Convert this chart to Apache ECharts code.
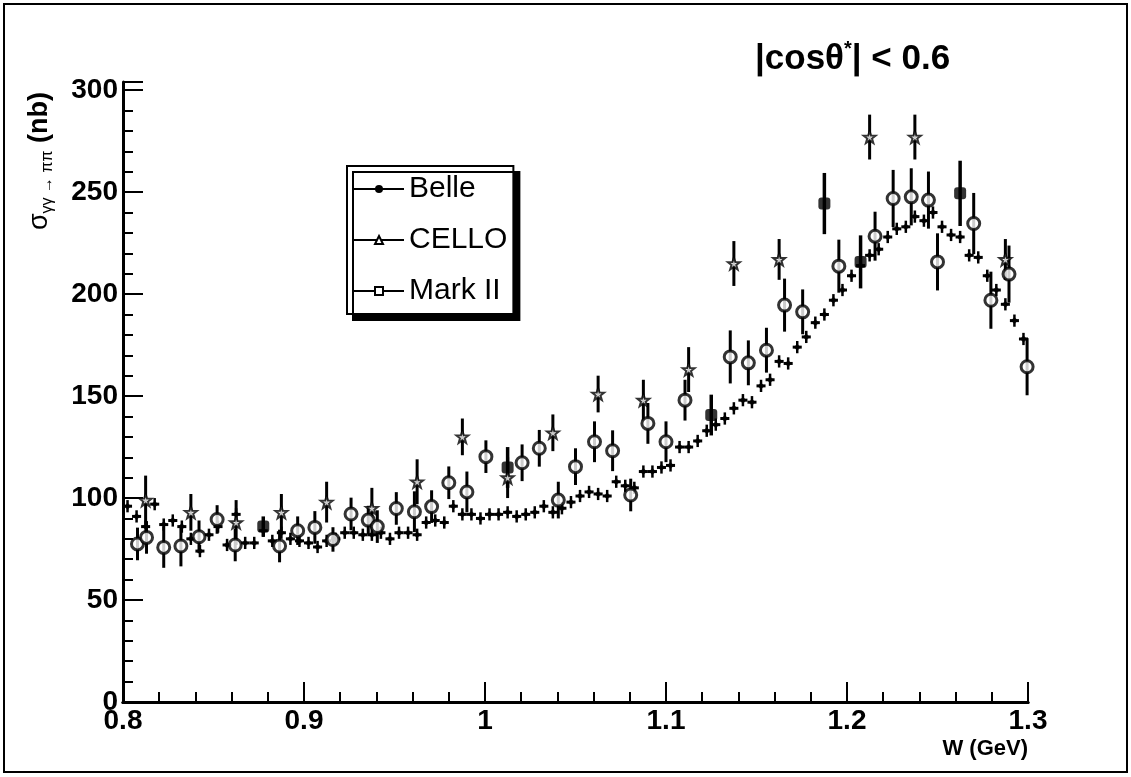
<!DOCTYPE html>
<html>
<head>
<meta charset="utf-8">
<script src="https://cdn.jsdelivr.net/npm/echarts@6/dist/echarts.min.js"></script>
<style>
    html, body { margin: 0; background: #fff; }
    #box1 { width: 1131px; height: 777px; }
</style>
</head>
<body>
<div id="box1"></div>
<script>
// Belle, 5 MeV bins
var belleW = [0.8025, 0.8075, 0.8125, 0.8175, 0.8225, 0.8275, 0.8325, 0.8375, 0.8425, 0.8475,
    0.8525, 0.8575, 0.8625, 0.8675, 0.8725, 0.8775, 0.8825, 0.8875, 0.8925, 0.8975,
    0.9025, 0.9075, 0.9125, 0.9175, 0.9225, 0.9275, 0.9325, 0.9375, 0.9425, 0.9475,
    0.9525, 0.9575, 0.9625, 0.9675, 0.9725, 0.9775, 0.9825, 0.9875, 0.9925, 0.9975,
    1.0025, 1.0075, 1.0125, 1.0175, 1.0225, 1.0275, 1.0325, 1.0375, 1.0425, 1.0475,
    1.0525, 1.0575, 1.0625, 1.0675, 1.0725, 1.0775, 1.0825, 1.0875, 1.0925, 1.0975,
    1.1025, 1.1075, 1.1125, 1.1175, 1.1225, 1.1275, 1.1325, 1.1375, 1.1425, 1.1475,
    1.1525, 1.1575, 1.1625, 1.1675, 1.1725, 1.1775, 1.1825, 1.1875, 1.1925, 1.1975,
    1.2025, 1.2075, 1.2125, 1.2175, 1.2225, 1.2275, 1.2325, 1.2375, 1.2425, 1.2475,
    1.2525, 1.2575, 1.2625, 1.2675, 1.2725, 1.2775, 1.2825, 1.2875, 1.2925, 1.2975];
var belleSigma = [96, 91, 86, 97, 87, 89, 86, 80, 74, 82,
    86, 77, 92, 78, 78, 84, 79, 83, 80, 79,
    78, 76, 79, 80, 83, 83, 82, 82, 83, 80,
    83, 83, 82, 88, 89, 88, 96, 92, 92, 90,
    92, 92, 93, 91, 92, 93, 96, 93, 95, 98,
    101, 103, 102, 101, 108, 106, 105, 113, 113, 115,
    116, 125, 125, 128, 133, 136, 139, 144, 148, 147,
    155, 158, 167, 166, 174, 179, 186, 190, 197, 202,
    209, 214, 219, 222, 228, 232, 233, 238, 236, 240,
    233, 229, 228, 219, 218, 209, 202, 195, 187, 178];
var BELLE_ERR = 3;
var BELLE_HALF_BIN = 0.0025;

// CELLO
var celloW = [0.8125, 0.8375, 0.8625, 0.8875, 0.9125, 0.9375, 0.9625, 0.9875, 1.0125, 1.0375,
    1.0625, 1.0875, 1.1125, 1.1375, 1.1625, 1.2125, 1.2375, 1.2875];
var celloSigma = [99, 93, 88, 93, 98, 95, 108, 130, 110, 132,
    151, 148, 163, 215, 217, 277, 277, 217];
var celloErr = [12, 9, 11, 9, 10, 10, 11, 9, 10, 9,
    9, 10, 11, 11, 10, 11, 11, 10];

// Mark II
var markW = [0.808, 0.813, 0.8225, 0.832, 0.842, 0.852, 0.862, 0.8865, 0.8965, 0.906,
    0.916, 0.926, 0.9355, 0.9405, 0.951, 0.961, 0.9705, 0.98, 0.99, 1.0005,
    1.0205, 1.03, 1.0405, 1.05, 1.0605, 1.0705, 1.0805, 1.09, 1.1, 1.1105,
    1.1355, 1.1455, 1.1555, 1.1655, 1.1755, 1.1955, 1.2155, 1.2255, 1.2355, 1.245,
    1.25, 1.27, 1.2795, 1.2895, 1.2995];
var markSigma = [77.5, 80.7, 75.8, 76.5, 81, 89.5, 77, 76.5, 84, 85.6,
    79.7, 92.2, 89.2, 86, 94.9, 93.3, 95.8, 107.5, 103, 120.3,
    117.3, 124.4, 99, 115.4, 127.6, 123.2, 101.5, 136.6, 127.6, 148,
    169.2, 166.3, 172.5, 194.6, 191.3, 213.7, 228.4, 246.9, 247.7, 246.1,
    215.8, 234.6, 197, 209.8, 164.4];
var markErr = [8, 8, 10, 10, 8, 7, 8, 8, 7, 8,
    6, 8, 7, 8, 8, 10, 8, 8, 10, 8,
    9, 9, 9, 9, 10, 10, 8, 10, 10, 10,
    13, 11, 11, 13, 11, 13, 12, 14, 14, 14,
    14, 15, 14, 14, 14];

// points drawn solid in the plot
var solidW = [0.8775, 1.0125, 1.125, 1.1875, 1.2075, 1.2625];
var solidSigma = [86, 115, 140.7, 244.4, 215.8, 249.4];
var solidErr = [5, 10, 10, 15, 13, 16];

var starPath = 'path://M0,-10L2.35,-3.24L9.51,-3.09L3.8,1.24L5.88,8.09L0,4L-5.88,8.09L-3.8,1.24L-9.51,-3.09L-2.35,-3.24Z';
var fontMain = '"Liberation Sans", Arial, sans-serif';

function zip(a, b, c) {
    var out = [];
    for (var i = 0; i < a.length; i++) {
        out.push(c === undefined ? [a[i], b[i]] : [a[i], b[i], typeof c === 'number' ? c : c[i]]);
    }
    return out;
}

function errorBars(halfBin, width) {
    return function (params, api) {
        var x = api.value(0), y = api.value(1), e = api.value(2);
        var top = api.coord([x, y + e]);
        var bot = api.coord([x, y - e]);
        var kids = [{
            type: 'line',
            shape: { x1: top[0], y1: top[1], x2: bot[0], y2: bot[1] },
            style: { stroke: '#000', lineWidth: width }
        }];
        if (halfBin) {
            var l = api.coord([x - halfBin, y]);
            var r = api.coord([x + halfBin, y]);
            kids.push({
                type: 'line',
                shape: { x1: l[0], y1: l[1], x2: r[0], y2: r[1] },
                style: { stroke: '#000', lineWidth: 3 }
            });
        }
        return { type: 'group', children: kids };
    };
}

var chart = echarts.init(document.getElementById('box1'));
var option = {
    animation: false,
    backgroundColor: '#fff',
    textStyle: { fontFamily: fontMain, color: '#000' },
    title: {
        text: '{t||cos\u03b8}{s|*}{t|| < 0.6}',
        left: 750,
        top: 34,
        textStyle: {
            rich: {
                t: { fontSize: 35, fontWeight: 'bold', fontFamily: fontMain, color: '#000', lineHeight: 40 },
                s: { fontSize: 20, fontWeight: 'bold', fontFamily: fontMain, color: '#000', verticalAlign: 'top' }
            }
        }
    },
    legend: {
        orient: 'vertical',
        left: 347,
        top: 166,
        padding: [6, 6, 6, 6],
        itemGap: 17,
        itemWidth: 50,
        itemHeight: 10,
        selectedMode: false,
        backgroundColor: '#fff',
        borderColor: '#000',
        borderWidth: 2,
        borderRadius: 0,
        shadowColor: '#000',
        shadowBlur: 0,
        shadowOffsetX: 6,
        shadowOffsetY: 6,
        data: ['Belle', 'CELLO', 'Mark II'],
        textStyle: { fontSize: 30, color: '#000', fontFamily: fontMain, lineHeight: 34 }
    },
    grid: { left: 123, right: 103, top: 82, bottom: 75, containLabel: false },
    xAxis: [{
        type: 'value',
        min: 0.8,
        max: 1.3,
        interval: 0.1,
        name: 'W (GeV)',
        nameLocation: 'end',
        nameGap: 0,
        nameTextStyle: {
            fontSize: 22, fontWeight: 'bold', color: '#000', align: 'right',
            verticalAlign: 'top', padding: [36, 0, 0, 0]
        },
        axisLine: { lineStyle: { color: '#000', width: 3 } },
        axisTick: { inside: true, length: 20, lineStyle: { color: '#000', width: 2 } },
        minorTick: { show: true, splitNumber: 5, length: 10, lineStyle: { color: '#000', width: 2 } },
        axisLabel: { fontSize: 28, fontWeight: 'bold', color: '#000', margin: 5 },
        splitLine: { show: false }
    }, {
        type: 'value',
        position: 'top',
        min: 0.8,
        max: 1.3,
        axisLine: { show: true, lineStyle: { color: '#000', width: 3 } },
        axisTick: { show: false },
        axisLabel: { show: false },
        splitLine: { show: false }
    }],
    yAxis: [{
        type: 'value',
        position: 'left',
        min: 0,
        max: 304,
        interval: 50,
        axisLine: { show: true, lineStyle: { color: '#000', width: 3 } },
        axisTick: { inside: true, length: 20, lineStyle: { color: '#000', width: 2 } },
        axisLabel: {
            fontSize: 28, fontWeight: 'bold', color: '#000', margin: 5,
            formatter: function (v) { return v % 50 === 0 ? String(v) : ''; }
        },
        splitLine: { show: false }
    }, {
        type: 'value',
        position: 'left',
        offset: 0,
        min: 0,
        max: 304,
        interval: 10,
        axisLine: { show: false },
        axisTick: { inside: true, length: 10, lineStyle: { color: '#000', width: 2 } },
        axisLabel: { show: false },
        splitLine: { show: false }
    }],
    graphic: [{
        type: 'rect',
        shape: { x: 4, y: 4, width: 1123, height: 768 },
        style: { fill: 'none', stroke: '#000', lineWidth: 2 },
        silent: true
    }, {
        type: 'text',
        x: 40,
        y: 92,
        rotation: Math.PI / 2,
        silent: true,
        style: {
            text: '{s|\u03c3}{sub|\u03b3\u03b3 \u2192 \u03c0\u03c0}{n| (nb)}',
            align: 'right',
            verticalAlign: 'middle',
            rich: {
                s: { fontSize: 27, fontFamily: fontMain, fill: '#000', lineHeight: 32 },
                sub: { fontSize: 16, fontFamily: fontMain, fill: '#000', verticalAlign: 'bottom' },
                n: { fontSize: 27, fontWeight: 'bold', fontFamily: fontMain, fill: '#000', lineHeight: 32 }
            }
        }
    }],
    series: [
        // legend entries
        { name: 'Belle', type: 'line', data: [], symbol: 'circle', itemStyle: { color: '#000' }, lineStyle: { color: '#000', width: 2 } },
        { name: 'CELLO', type: 'line', data: [], symbol: 'triangle', itemStyle: { color: '#fff', borderColor: '#000', borderWidth: 1.5 }, lineStyle: { color: '#000', width: 2 } },
        { name: 'Mark II', type: 'line', data: [], symbol: 'rect', itemStyle: { color: '#fff', borderColor: '#000', borderWidth: 1.5 }, lineStyle: { color: '#000', width: 2 } },
        // error bars
        { type: 'custom', renderItem: errorBars(BELLE_HALF_BIN, 2.5), data: zip(belleW, belleSigma, BELLE_ERR), encode: { x: 0, y: 1 }, silent: true, z: 2 },
        { type: 'custom', renderItem: errorBars(0, 3), data: zip(celloW, celloSigma, celloErr), encode: { x: 0, y: 1 }, silent: true, z: 2 },
        { type: 'custom', renderItem: errorBars(0, 3), data: zip(markW, markSigma, markErr), encode: { x: 0, y: 1 }, silent: true, z: 2 },
        { type: 'custom', renderItem: errorBars(0, 3.5), data: zip(solidW, solidSigma, solidErr), encode: { x: 0, y: 1 }, silent: true, z: 2 },
        // markers
        { type: 'scatter', data: zip(belleW, belleSigma), symbol: 'diamond', symbolSize: 7, itemStyle: { color: '#000' }, silent: true, z: 3 },
        { type: 'scatter', data: zip(celloW, celloSigma), symbol: starPath, symbolSize: 12, itemStyle: { color: '#fff', borderColor: '#000', borderWidth: 2 }, silent: true, z: 4 },
        { type: 'scatter', data: zip(markW, markSigma), symbol: 'circle', symbolSize: 12, itemStyle: { color: '#fff', borderColor: '#000', borderWidth: 3 }, silent: true, z: 4 },
        { type: 'scatter', data: zip(solidW, solidSigma), symbol: 'roundRect', symbolSize: 12, itemStyle: { color: '#000' }, silent: true, z: 4 }
    ]
};
chart.setOption(option);
</script>
</body>
</html>
